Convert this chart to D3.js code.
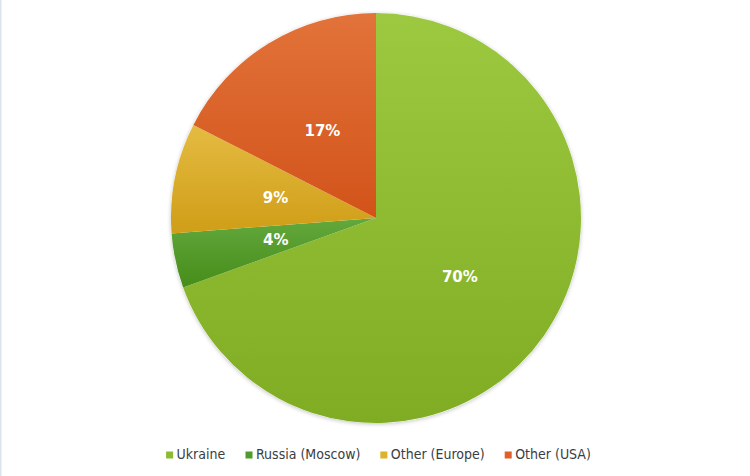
<!DOCTYPE html>
<html><head><meta charset="utf-8">
<script src="https://cdn.jsdelivr.net/npm/d3@7"></script>
<style>
html,body{margin:0;padding:0;background:#fff;}
svg{display:block;}
</style></head>
<body>
<svg id="chart" width="750" height="476"></svg>
<script>
const categories = ["Ukraine", "Russia (Moscow)", "Other (Europe)", "Other (USA)"];
const values = [69.5, 4.3, 8.7, 17.5];
const labels = ["70%", "4%", "9%", "17%"];
const topColors = ["#9dc940", "#62a83c", "#e4bb42", "#e2733a"];
const bottomColors = ["#7fac22", "#478d1a", "#d09e17", "#d2531a"];
const legendColors = ["#8cbb30", "#509b2a", "#e0b12a", "#e0602a"];

const svg = d3.select("#chart");
const W = 750, H = 476;
svg.append("rect").attr("x",0).attr("y",0).attr("width",1.5).attr("height",H).attr("fill","#dbe4ec");

const cx = 376, cy = 218, R = 205;
const defs = svg.append("defs");
const f = defs.append("filter").attr("id","sh").attr("x","-10%").attr("y","-10%").attr("width","120%").attr("height","120%");
f.append("feGaussianBlur").attr("in","SourceAlpha").attr("stdDeviation",2);
f.append("feOffset").attr("dx",0).attr("dy",1).attr("result","b");
f.append("feComponentTransfer").append("feFuncA").attr("type","linear").attr("slope",0.25);
const m = f.append("feMerge"); m.append("feMergeNode"); m.append("feMergeNode").attr("in","SourceGraphic");

categories.forEach((c,i)=>{
  const g = defs.append("linearGradient").attr("id","g"+i).attr("x1",0).attr("y1",0).attr("x2",0).attr("y2",1);
  g.append("stop").attr("offset","0%").attr("stop-color",topColors[i]);
  g.append("stop").attr("offset","100%").attr("stop-color",bottomColors[i]);
});

const data = categories.map((c,i)=>({cat:c, value:values[i], label:labels[i], i}));
const pie = d3.pie().sort(null).value(d=>d.value);
const arc = d3.arc().innerRadius(0).outerRadius(R);
const labelArc = d3.arc().innerRadius(R*0.5).outerRadius(R*0.5);
const arcs = pie(data);

const g = svg.append("g").attr("transform",`translate(${cx},${cy})`);
g.append("circle").attr("r",R).attr("fill","#fff").attr("filter","url(#sh)");
g.selectAll("path.slice").data(arcs).join("path").attr("class","slice")
  .attr("d",arc).attr("fill",d=>`url(#g${d.data.i})`);
g.selectAll("text.lbl").data(arcs).join("text").attr("class","lbl")
  .attr("transform",d=>`translate(${labelArc.centroid(d)})`)
  .attr("text-anchor","middle").attr("dy","0.35em")
  .attr("font-family","'DejaVu Sans', Verdana, sans-serif").attr("font-weight","bold")
  .attr("font-size",15).attr("fill","#fff").text(d=>d.data.label);

// legend
const lg = svg.append("g");
const items = lg.selectAll("g").data(data).join("g");
items.append("rect").attr("width",7).attr("height",7).attr("y",-7).attr("fill",d=>legendColors[d.i]);
items.append("text").attr("x",10.5).attr("y",0).attr("font-family","'DejaVu Sans Condensed', 'DejaVu Sans', sans-serif")
  .attr("font-stretch","condensed")
  .attr("font-size",14).attr("fill","#3a3d42").text(d=>d.cat);
let x = 0; const gap = 20;
items.each(function(d){ const w = this.getBBox().width; d3.select(this).attr("transform",`translate(${x},0)`); x += w + gap; });
const total = x - gap;
lg.attr("transform",`translate(${378.5 - total/2},458.5)`);
</script>
</body></html>
